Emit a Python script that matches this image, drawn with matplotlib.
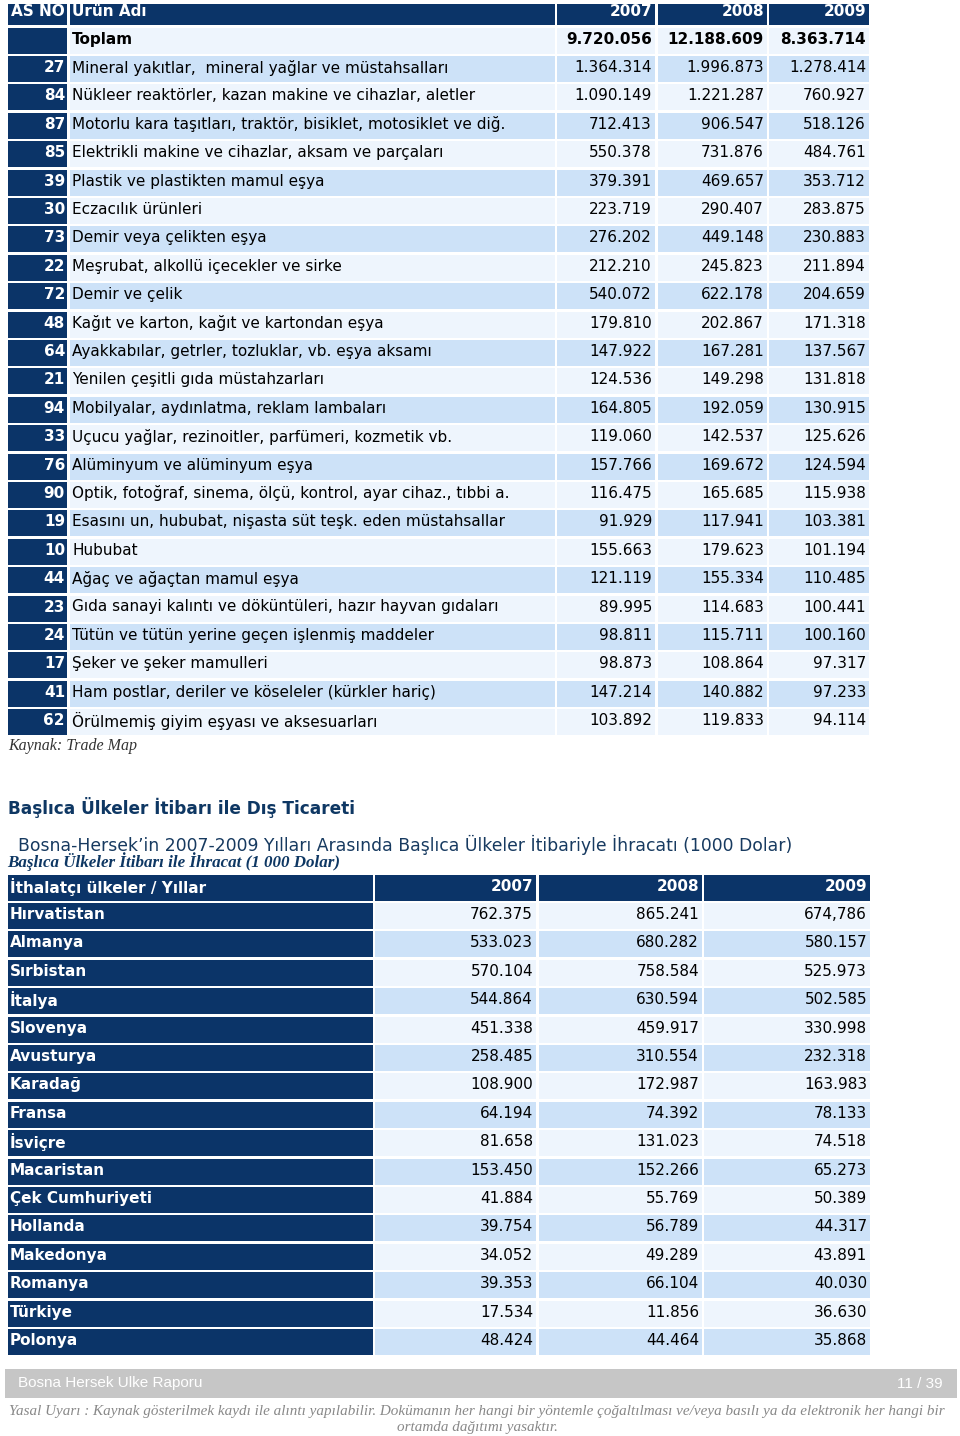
import matplotlib
matplotlib.use("Agg")
import matplotlib.pyplot as plt
from matplotlib.patches import Rectangle

# --- table 1: products (1000 USD) ---
hs_codes = ["", "27", "84", "87", "85", "39", "30", "73", "22", "72", "48", "64", "21",
            "94", "33", "76", "90", "19", "10", "44", "23", "24", "17", "41", "62"]
products = ["Toplam",
            "Mineral yakıtlar,  mineral yağlar ve müstahsalları",
            "Nükleer reaktörler, kazan makine ve cihazlar, aletler",
            "Motorlu kara taşıtları, traktör, bisiklet, motosiklet ve diğ.",
            "Elektrikli makine ve cihazlar, aksam ve parçaları",
            "Plastik ve plastikten mamul eşya",
            "Eczacılık ürünleri",
            "Demir veya çelikten eşya",
            "Meşrubat, alkollü içecekler ve sirke",
            "Demir ve çelik",
            "Kağıt ve karton, kağıt ve kartondan eşya",
            "Ayakkabılar, getrler, tozluklar, vb. eşya aksamı",
            "Yenilen çeşitli gıda müstahzarları",
            "Mobilyalar, aydınlatma, reklam lambaları",
            "Uçucu yağlar, rezinoitler, parfümeri, kozmetik vb.",
            "Alüminyum ve alüminyum eşya",
            "Optik, fotoğraf, sinema, ölçü, kontrol, ayar cihaz., tıbbi a.",
            "Esasını un, hububat, nişasta süt teşk. eden müstahsallar",
            "Hububat",
            "Ağaç ve ağaçtan mamul eşya",
            "Gıda sanayi kalıntı ve döküntüleri, hazır hayvan gıdaları",
            "Tütün ve tütün yerine geçen işlenmiş maddeler",
            "Şeker ve şeker mamulleri",
            "Ham postlar, deriler ve köseleler (kürkler hariç)",
            "Örülmemiş giyim eşyası ve aksesuarları"]
p2007 = ["9.720.056", "1.364.314", "1.090.149", "712.413", "550.378", "379.391", "223.719",
         "276.202", "212.210", "540.072", "179.810", "147.922", "124.536", "164.805",
         "119.060", "157.766", "116.475", "91.929", "155.663", "121.119", "89.995",
         "98.811", "98.873", "147.214", "103.892"]
p2008 = ["12.188.609", "1.996.873", "1.221.287", "906.547", "731.876", "469.657", "290.407",
         "449.148", "245.823", "622.178", "202.867", "167.281", "149.298", "192.059",
         "142.537", "169.672", "165.685", "117.941", "179.623", "155.334", "114.683",
         "115.711", "108.864", "140.882", "119.833"]
p2009 = ["8.363.714", "1.278.414", "760.927", "518.126", "484.761", "353.712", "283.875",
         "230.883", "211.894", "204.659", "171.318", "137.567", "131.818", "130.915",
         "125.626", "124.594", "115.938", "103.381", "101.194", "110.485", "100.441",
         "100.160", "97.317", "97.233", "94.114"]

# --- table 2: export by country (1000 USD) ---
countries = ["Hırvatistan", "Almanya", "Sırbistan", "İtalya", "Slovenya", "Avusturya",
             "Karadağ", "Fransa", "İsviçre", "Macaristan", "Çek Cumhuriyeti", "Hollanda",
             "Makedonya", "Romanya", "Türkiye", "Polonya"]
c2007 = ["762.375", "533.023", "570.104", "544.864", "451.338", "258.485", "108.900",
         "64.194", "81.658", "153.450", "41.884", "39.754", "34.052", "39.353", "17.534",
         "48.424"]
c2008 = ["865.241", "680.282", "758.584", "630.594", "459.917", "310.554", "172.987",
         "74.392", "131.023", "152.266", "55.769", "56.789", "49.289", "66.104", "11.856",
         "44.464"]
c2009 = ["674,786", "580.157", "525.973", "502.585", "330.998", "232.318", "163.983",
         "78.133", "74.518", "65.273", "50.389", "44.317", "43.891", "40.030", "36.630",
         "35.868"]
years = ["2007", "2008", "2009"]

NAVY = "#0b3468"
LIGHT = "#eef5fd"
BLUE = "#cde2f8"
FS = 11

fig = plt.figure(figsize=(9.6, 14.36), dpi=100)
ax = fig.add_axes([0, 0, 1, 1])
ax.set_xlim(0, 960)
ax.set_ylim(1436, 0)
ax.axis("off")


def cell(x0, x1, top, h, color):
    r = Rectangle((x0, top), x1 - x0, h, facecolor=color, edgecolor="none")
    ax.add_patch(r)
    return r


# table 1
cols1 = [(8, 67), (70, 555), (557, 655), (658, 767), (769, 869)]
pitch = 28.39
h = 26
hdr_cells = [cell(a, b, 4, 21, NAVY) for a, b in cols1]
hdr_texts = [(cols1[0][1] - 2, "AS NO", "right"), (cols1[1][0] + 2, "Ürün Adı", "left")]
hdr_texts += [(cols1[i + 2][1] - 3, y, "right") for i, y in enumerate(years)]
for (x, s, ha), r in zip(hdr_texts, hdr_cells):
    t = ax.text(x, 16.5, s, ha=ha, va="baseline", color="white", fontsize=FS,
                fontweight="bold")
    t.set_clip_path(r)

for i in range(len(products)):
    top = 27.7 + i * pitch
    bg = LIGHT if i % 2 == 0 else BLUE
    cell(*cols1[0], top, h, NAVY)
    for a, b in cols1[1:]:
        cell(a, b, top, h, bg)
    yc = top + h / 2 - 1.5
    bold = "bold" if i == 0 else "normal"
    ax.text(cols1[0][1] - 2, yc, hs_codes[i], ha="right", va="center", color="white",
            fontsize=FS, fontweight="bold")
    ax.text(cols1[1][0] + 2, yc, products[i], ha="left", va="center", color="black",
            fontsize=FS, fontweight=bold)
    for (a, b), v in zip(cols1[2:], (p2007[i], p2008[i], p2009[i])):
        ax.text(b - 3, yc, v, ha="right", va="center", color="black", fontsize=FS,
                fontweight=bold)

ax.text(8, 746, "Kaynak: Trade Map", family="Liberation Serif", style="italic",
        fontsize=11.5, color="#333333", va="center")

ax.text(8, 807, "Başlıca Ülkeler İtibarı ile Dış Ticareti", fontsize=12.2,
        fontweight="bold", color="#0e3763", va="center")
ax.text(18, 845, "Bosna-Hersek’in 2007-2009 Yılları Arasında Başlıca Ülkeler İtibariyle "
        "İhracatı (1000 Dolar)", fontsize=12.4, color="#173a60", va="center")
ax.text(7, 862, "Başlıca Ülkeler İtibarı ile İhracat (1 000 Dolar)",
        family="Liberation Serif", style="italic", fontweight="bold", fontsize=12.25,
        color="#0e3763", va="center")

# table 2
cols2 = [(8, 373), (375, 536), (539, 702), (704, 870)]
top0 = 875
for a, b in cols2:
    cell(a, b, top0, 26, NAVY)
ax.text(10, top0 + 11.5, "İthalatçı ülkeler / Yıllar", ha="left", va="center",
        color="white", fontsize=FS, fontweight="bold")
for (a, b), y in zip(cols2[1:], years):
    ax.text(b - 3, top0 + 11.5, y, ha="right", va="center", color="white", fontsize=FS,
            fontweight="bold")
for i in range(len(countries)):
    top = 903 + i * 28.4
    bg = LIGHT if i % 2 == 0 else BLUE
    cell(*cols2[0], top, h, NAVY)
    for a, b in cols2[1:]:
        cell(a, b, top, h, bg)
    yc = top + h / 2 - 1.5
    ax.text(10, yc, countries[i], ha="left", va="center", color="white", fontsize=FS,
            fontweight="bold")
    for (a, b), v in zip(cols2[1:], (c2007[i], c2008[i], c2009[i])):
        ax.text(b - 3, yc, v, ha="right", va="center", color="black", fontsize=FS)

# footer
cell(5, 957, 1369, 29, "#c6c6c6")
ax.text(18, 1383.5, "Bosna Hersek Ulke Raporu", family="Liberation Sans", fontsize=11,
        color="white", va="center")
ax.text(943, 1383.5, "11 / 39", family="Liberation Sans", fontsize=11, color="white",
        va="center", ha="right")
ax.text(477, 1412, "Yasal Uyarı : Kaynak gösterilmek kaydı ile alıntı yapılabilir. "
        "Dokümanın her hangi bir yöntemle çoğaltılması ve/veya basılı ya da elektronik "
        "her hangi bir", family="Liberation Serif", style="italic", fontsize=10.9,
        color="#888888", ha="center", va="center")
ax.text(477, 1427, "ortamda dağıtımı yasaktır.", family="Liberation Serif",
        style="italic", fontsize=10.9, color="#888888", ha="center", va="center")

fig.savefig("out.png", dpi=100, facecolor="white")
